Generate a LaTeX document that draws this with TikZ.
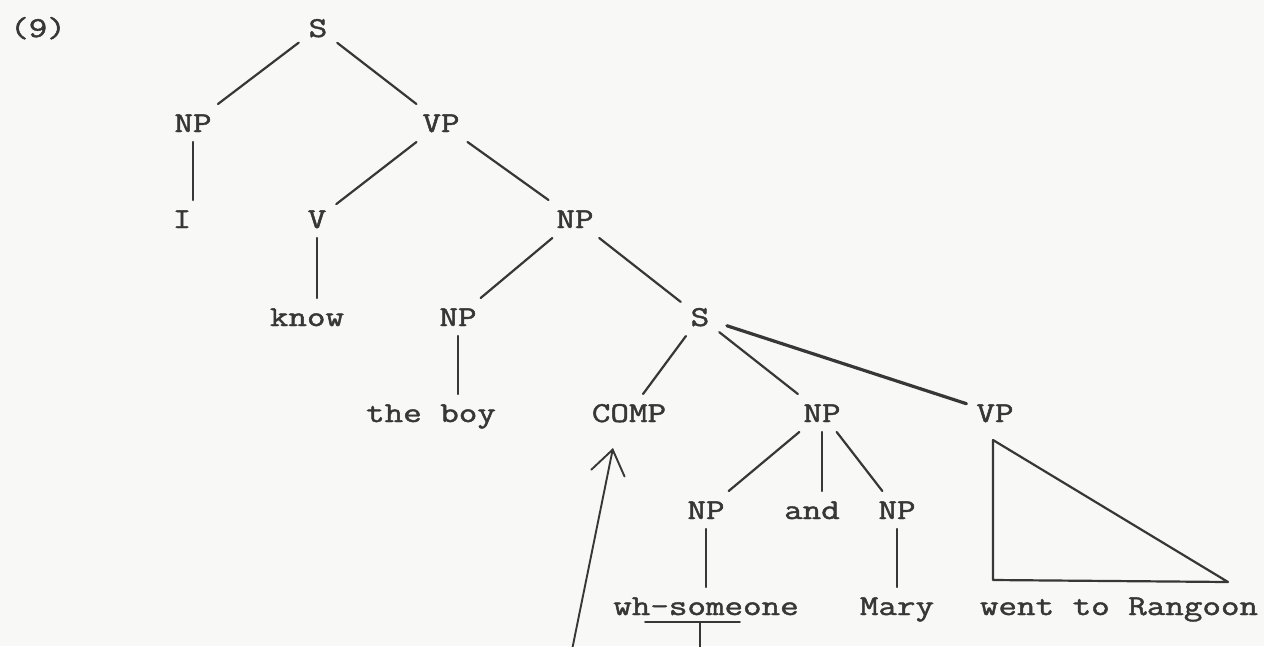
\documentclass[tikz,border=0pt]{standalone}
\usepackage{fontspec}
\usepackage{graphicx}
\usetikzlibrary{arrows.meta}

% slightly emboldened typewriter face for the labels
\newfontfamily\typewriter{Latin Modern Mono}[FakeBold=1.4]

% typewriter labels, slightly squat
\newcommand{\squash}[1]{\scalebox{1}[0.8]{#1}}

\definecolor{paper}{RGB}{248,248,246}
\definecolor{ink}{RGB}{55,55,55}

\tikzset{
  tn/.style={anchor=base, inner sep=0pt, outer sep=10pt,
             text height=18pt, text depth=0pt, text=ink,
             font=\typewriter\fontsize{36}{40}\selectfont},
  branch/.style={draw=ink, line width=2.2pt, line cap=round},
  heavy/.style={draw=ink, line width=3.2pt, line cap=round},
  mover/.style={draw=ink, line width=1.9pt, line cap=round, line join=round,
                -{Straight Barb[length=24pt,width=34pt,line cap=round]}}
}

\begin{document}
\begin{tikzpicture}[x=1pt,y=-1pt]
  \fill[paper] (0,0) rectangle (1264,646);
  \useasboundingbox (0,0) rectangle (1264,646);

  % example number
  \node[tn] (ex) at (38,37) {\squash{(9)}};

  % tree nodes (x = centre, y = baseline)
  \node[tn] (s1)   at (318,37)  {\squash{S}};
  \node[tn] (np1)  at (193,132) {\squash{NP}};
  \node[tn] (vp1)  at (441,132) {\squash{VP}};
  \node[tn] (i)    at (182,228) {\squash{I}};
  \node[tn] (v)    at (317,228) {\squash{V}};
  \node[tn] (np2)  at (575,228) {\squash{NP}};
  \node[tn] (know) at (307,326) {\squash{know}};
  \node[tn] (np3)  at (458,326) {\squash{NP}};
  \node[tn] (s2)   at (700,326) {\squash{S}};
  \node[tn] (boy)  at (431,422) {\squash{the boy}};
  \node[tn] (comp) at (629,422) {\squash{COMP}};
  \node[tn] (np4)  at (822,422) {\squash{NP}};
  \node[tn] (vp2)  at (995,422) {\squash{VP}};
  \node[tn] (np5)  at (706,519) {\squash{NP}};
  \node[tn] (and)  at (812,519) {\squash{and}};
  \node[tn] (np6)  at (897,519) {\squash{NP}};
  \node[tn] (who)  at (706,615) {\squash{wh-someone}};
  \node[tn] (mary) at (897,615) {\squash{Mary}};
  \node[tn] (went) at (1119,615) {\squash{went to Rangoon}};

  % branches
  \draw[branch] (s1) -- (np1);
  \draw[branch] (s1) -- (vp1);
  \draw[branch] (np1.south) -- (np1.south |- i.north);
  \draw[branch] (vp1) -- (v);
  \draw[branch] (vp1) -- (np2);
  \draw[branch] (v.south) -- (v.south |- know.north);
  \draw[branch] (np2) -- (np3);
  \draw[branch] (np2) -- (s2);
  \draw[branch] (np3.south) -- (np3.south |- boy.north);
  \draw[branch] (s2) -- (comp);
  \draw[branch] (s2) -- (np4);
  \draw[heavy, shorten <=8pt]  (s2) -- (vp2);
  \draw[branch] (np4) -- (np5);
  \draw[branch] (np4.south) -- (np4.south |- and.north);
  \draw[branch] (np4) -- (np6);
  \draw[branch] (np5.south) -- (np5.south |- who.north);
  \draw[branch] (np6.south) -- (np6.south |- mary.north);

  % unanalysed VP
  \coordinate (tri-top)   at (993,440);
  \coordinate (tri-left)  at (993,580);
  \coordinate (tri-right) at (1228,582);
  \draw[branch, line join=round] (tri-top) -- (tri-left) -- (tri-right) -- cycle;

  % underline of "some" with its tick
  \coordinate (ul-start) at (645,622);
  \coordinate (ul-end)   at (740,622);
  \coordinate (ul-mid)   at (700,622);
  \coordinate (ul-foot)  at (700,648);
  \draw[branch, line width=1.8pt] (ul-start) -- (ul-end);
  \draw[branch, line width=1.8pt] (ul-mid) -- (ul-foot);

  % movement arrow into COMP
  \coordinate (arr-foot) at (572,650);
  \coordinate (arr-tip)  at (613,448);
  \draw[mover] (arr-foot) -- (arr-tip);
\end{tikzpicture}
\end{document}
